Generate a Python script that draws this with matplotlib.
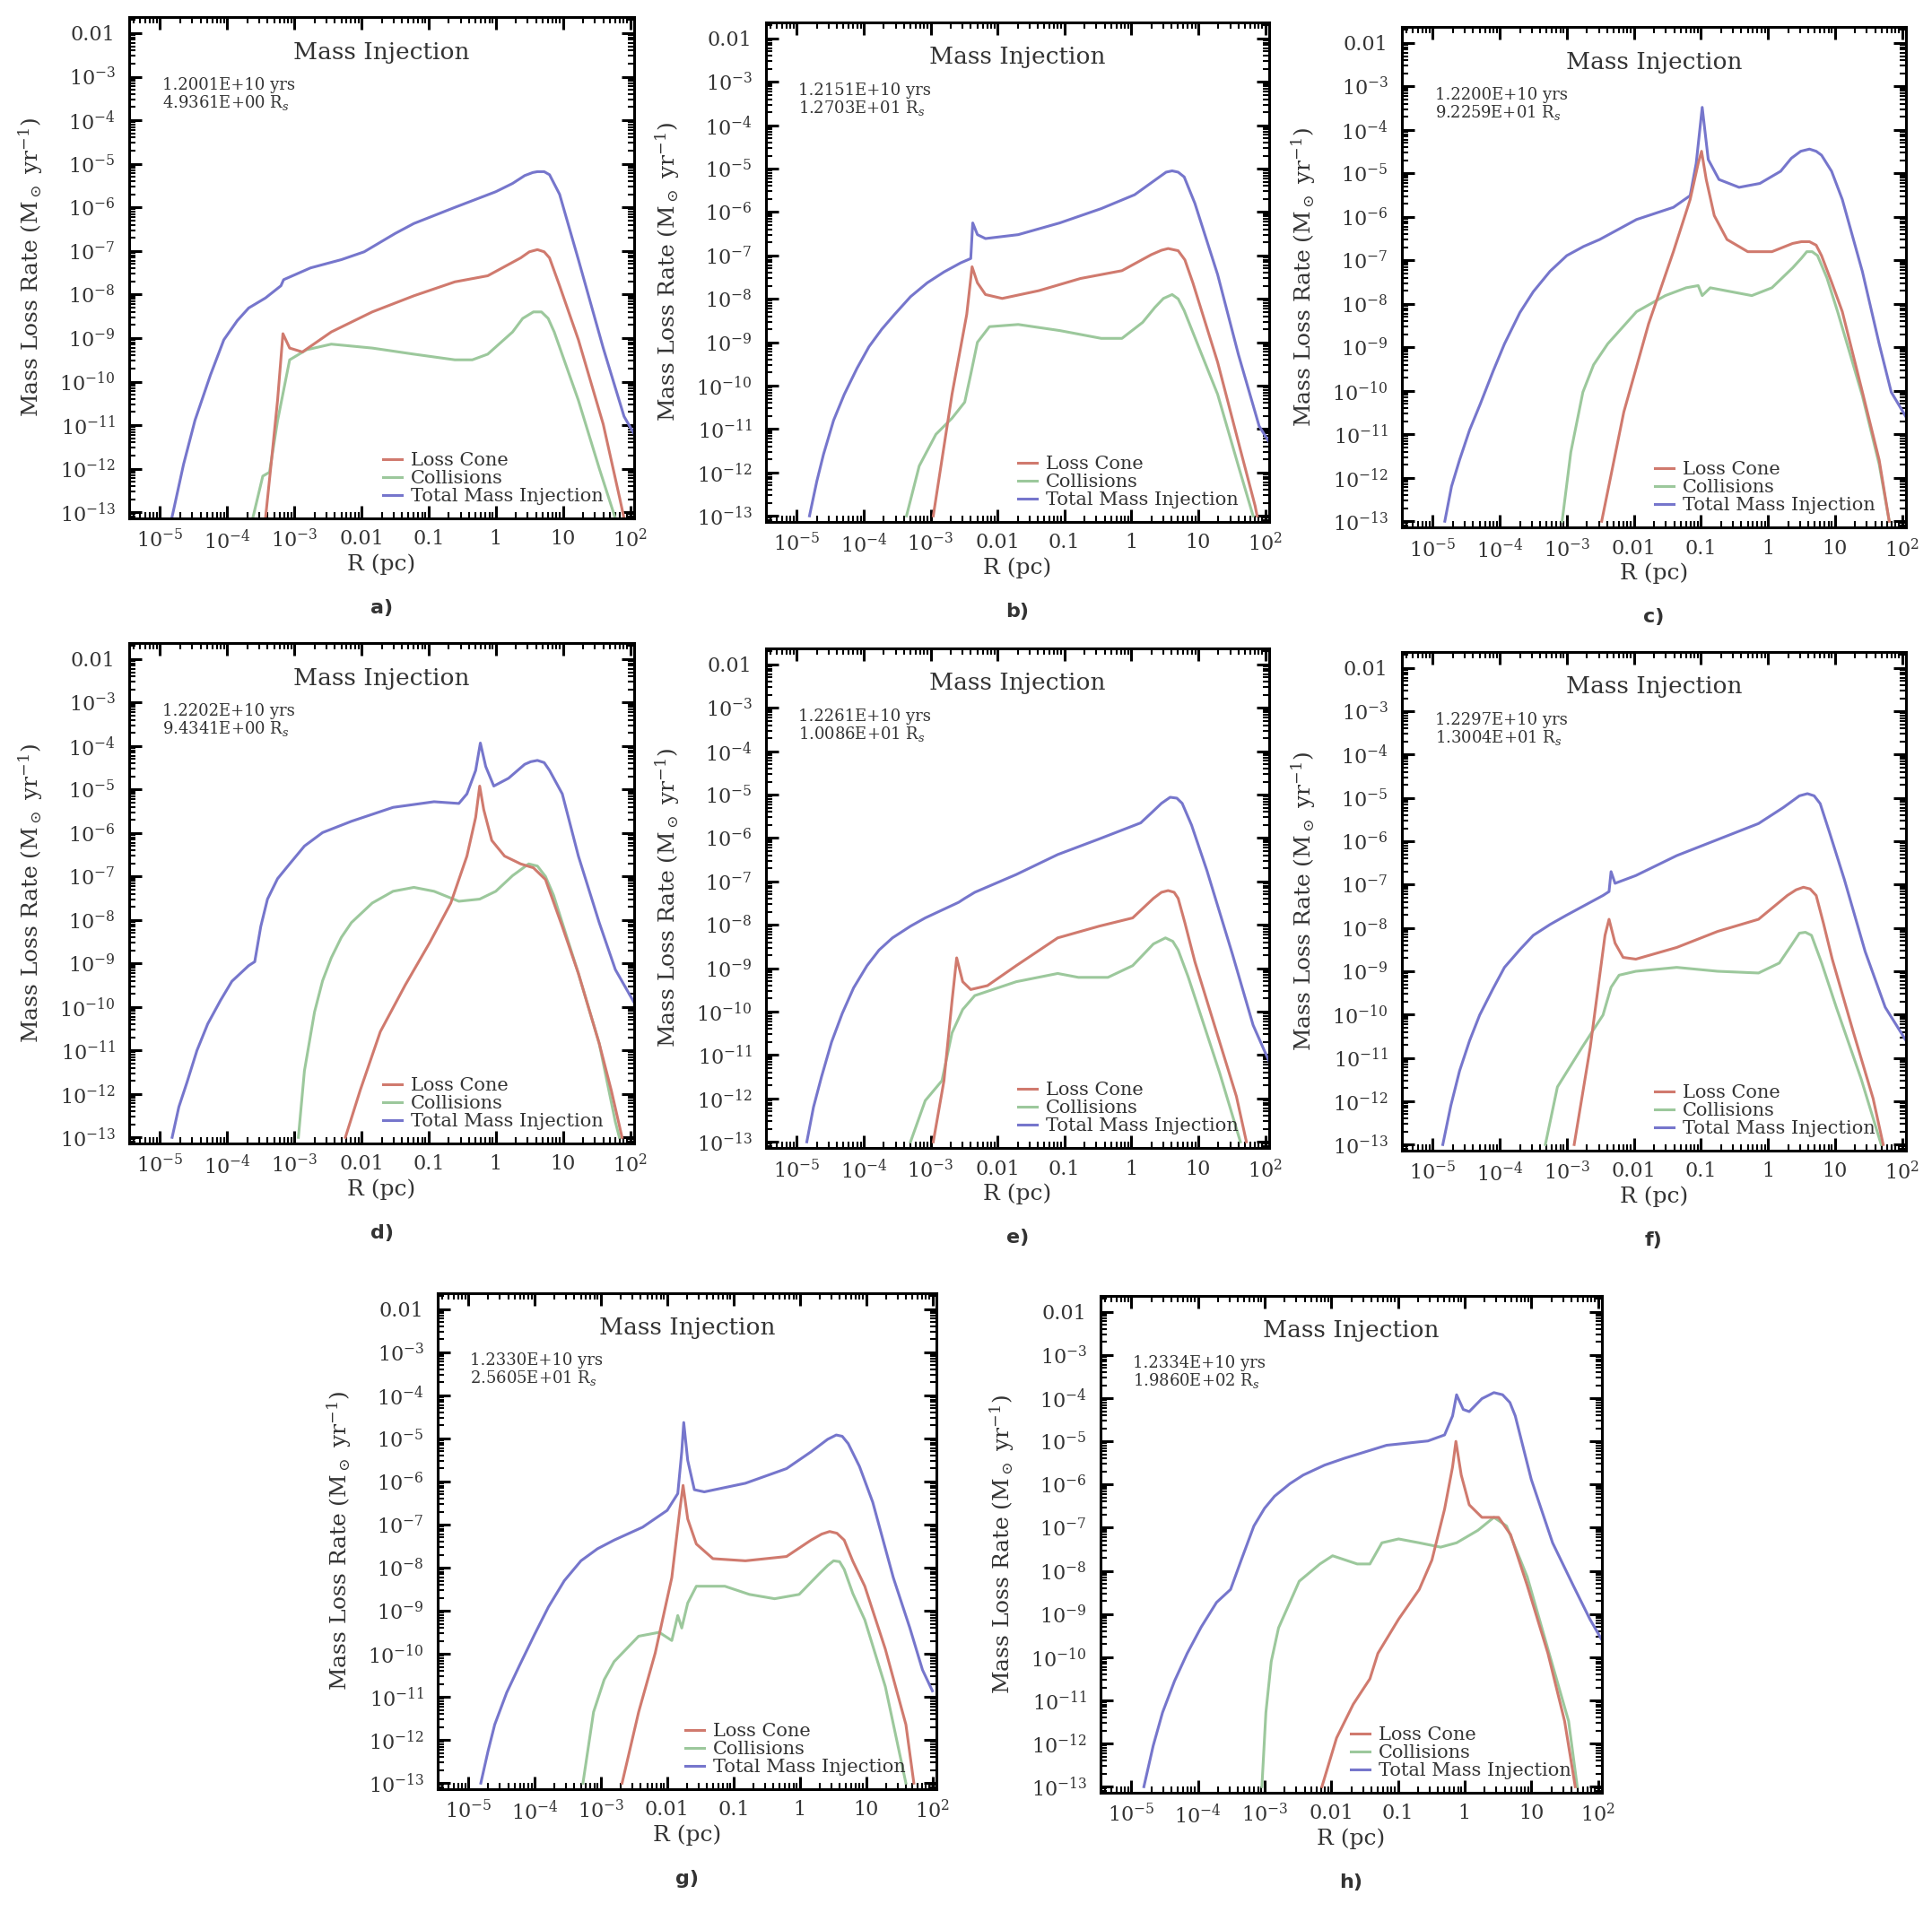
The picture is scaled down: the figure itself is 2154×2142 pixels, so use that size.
import numpy as np
import matplotlib
matplotlib.use('Agg')
import matplotlib.pyplot as plt
from matplotlib.ticker import FixedLocator, FixedFormatter, LogLocator, NullFormatter

plt.rcParams['font.family'] = ['DejaVu Serif']
plt.rcParams['mathtext.fontset'] = 'dejavuserif'

# textos de cada panel
tags = ['a)', 'b)', 'c)', 'd)', 'e)', 'f)', 'g)', 'h)']
ages = ['1.2001E+10', '1.2151E+10', '1.2200E+10', '1.2202E+10',
        '1.2261E+10', '1.2297E+10', '1.2330E+10', '1.2334E+10']
radii = ['4.9361E+00', '1.2703E+01', '9.2259E+01', '9.4341E+00',
         '1.0086E+01', '1.3004E+01', '2.5605E+01', '1.9860E+02']

x_ticks = [1e-5, 1e-4, 1e-3, 1e-2, 1e-1, 1, 10, 100]
x_labels = ['$10^{-5}$', '$10^{-4}$', '$10^{-3}$', '0.01', '0.1', '1', '10',
            '$10^{2}$']
y_ticks = [1e-13, 1e-12, 1e-11, 1e-10, 1e-9, 1e-8, 1e-7, 1e-6, 1e-5, 1e-4,
           1e-3, 1e-2]
y_labels = ['$10^{-13}$', '$10^{-12}$', '$10^{-11}$', '$10^{-10}$',
            '$10^{-9}$', '$10^{-8}$', '$10^{-7}$', '$10^{-6}$', '$10^{-5}$',
            '$10^{-4}$', '$10^{-3}$', '0.01']

# log10 R (pc) y log10 tasa (Msun/yr), leidos de la figura
# panel a
lr_tot_a = [-4.82, -4.65, -4.48, -4.25, -4.05, -3.85, -3.68, -3.43, -3.2,
            -3.16, -2.76, -2.3, -1.96, -1.5, -1.22, -0.61, 0.0, 0.25, 0.43,
            0.55, 0.62, 0.72, 0.80, 0.95, 1.23, 1.60, 1.91, 2.06]
lm_tot_a = [-13.1, -11.9, -10.89, -9.85, -9.04, -8.6, -8.31, -8.08, -7.8,
            -7.66, -7.39, -7.2, -7.02, -6.6, -6.37, -6.0, -5.64, -5.45, -5.27,
            -5.2, -5.18, -5.18, -5.25, -5.7, -7.2, -9.23, -10.8, -11.2]
lr_lc_a = [-3.43, -3.34, -3.25, -3.17, -3.07, -2.88, -2.45, -1.84, -1.22,
           -0.61, -0.12, 0.37, 0.5, 0.62, 0.72, 0.8, 0.95, 1.23, 1.6, 1.84,
           1.91]
lm_lc_a = [-13.14, -11.8, -10.43, -8.9, -9.23, -9.32, -8.86, -8.4, -8.03,
           -7.71, -7.57, -7.16, -7.02, -6.97, -7.02, -7.16, -7.8, -9.04,
           -10.98, -12.64, -13.14]
lr_col_a = [-3.62, -3.47, -3.37, -3.25, -3.07, -2.82, -2.45, -1.84, -1.22,
            -0.61, -0.35, -0.12, 0.25, 0.4, 0.56, 0.68, 0.78, 0.87, 1.23,
            1.54, 1.78]
lm_col_a = [-13.14, -12.17, -12.08, -10.9, -9.5, -9.27, -9.14, -9.23, -9.37,
            -9.5, -9.5, -9.37, -8.86, -8.55, -8.4, -8.4, -8.55, -8.86, -10.43,
            -11.99, -13.14]

# panel b
lr_tot_b = [-4.81, -4.7, -4.6, -4.45, -4.29, -4.1, -3.92, -3.73, -3.54, -3.3,
            -3.05, -2.8, -2.55, -2.4, -2.37, -2.30, -2.18, -1.69, -1.07,
            -0.45, 0.05, 0.42, 0.52, 0.61, 0.7, 0.79, 0.95, 1.29, 1.6, 1.91,
            2.06]
lm_tot_b = [-13.0, -12.2, -11.58, -10.8, -10.2, -9.6, -9.1, -8.7, -8.36,
            -7.95, -7.63, -7.38, -7.17, -7.07, -6.25, -6.52, -6.61, -6.52,
            -6.25, -5.92, -5.6, -5.19, -5.08, -5.05, -5.08, -5.19, -5.8,
            -7.44, -9.28, -10.93, -11.3]
lr_lc_b = [-2.96, -2.68, -2.46, -2.38, -2.30, -2.18, -1.93, -1.38, -0.76,
           -0.14, 0.30, 0.45, 0.55, 0.70, 0.8, 0.92, 1.29, 1.6, 1.85, 1.88]
lm_lc_b = [-13.0, -10.2, -8.36, -7.26, -7.63, -7.9, -7.99, -7.81, -7.53,
           -7.35, -6.98, -6.88, -6.84, -6.89, -7.1, -7.63, -9.46, -11.3,
           -12.77, -13.0]
lr_col_b = [-3.36, -3.17, -2.92, -2.68, -2.49, -2.4, -2.3, -2.12, -1.69,
            -1.07, -0.45, -0.14, 0.17, 0.35, 0.48, 0.61, 0.7, 0.79, 1.29, 1.6,
            1.82]
lm_col_b = [-13.0, -11.85, -11.12, -10.75, -10.38, -9.74, -9.0, -8.64, -8.59,
            -8.73, -8.91, -8.91, -8.54, -8.2, -7.99, -7.9, -8.0, -8.27, -10.2,
            -11.85, -13.0]

# panel c
lr_tot_c = [-4.82, -4.72, -4.6, -4.45, -4.29, -4.1, -3.93, -3.7, -3.5, -3.25,
            -3.0, -2.75, -2.51, -1.96, -1.41, -1.16, -1.07, -0.98, -0.89,
            -0.73, -0.43, -0.12, 0.19, 0.35, 0.49, 0.62, 0.72, 0.8, 0.95,
            1.11, 1.41, 1.66, 1.84, 2.06]
lm_tot_c = [-13.0, -12.2, -11.59, -10.9, -10.3, -9.55, -8.92, -8.2, -7.72,
            -7.25, -6.89, -6.68, -6.52, -6.06, -5.78, -5.51, -4.77, -3.48,
            -4.68, -5.14, -5.32, -5.23, -4.95, -4.65, -4.49, -4.44, -4.49,
            -4.58, -4.95, -5.6, -7.26, -8.92, -10.03, -10.6]
lr_lc_c = [-2.48, -2.15, -1.78, -1.41, -1.16, -1.04, -0.99, -0.92, -0.8,
           -0.61, -0.3, 0.06, 0.37, 0.5, 0.62, 0.72, 0.8, 0.95, 1.11, 1.41,
           1.66, 1.81]
lm_lc_c = [-13.0, -10.49, -8.46, -6.8, -5.6, -4.77, -4.49, -5.14, -5.97,
           -6.52, -6.8, -6.8, -6.61, -6.57, -6.57, -6.65, -6.89, -7.5, -8.18,
           -10.03, -11.59, -13.0]
lr_col_c = [-3.07, -2.94, -2.76, -2.6, -2.39, -1.96, -1.53, -1.22, -1.04,
            -0.98, -0.86, -0.55, -0.24, 0.06, 0.37, 0.5, 0.58, 0.66, 0.74,
            0.88, 1.04, 1.41, 1.66, 1.81]
lm_col_c = [-13.0, -11.41, -10.03, -9.4, -8.92, -8.18, -7.81, -7.63, -7.58,
            -7.81, -7.63, -7.72, -7.81, -7.63, -7.17, -6.95, -6.8, -6.8,
            -6.89, -7.4, -8.18, -10.12, -11.69, -13.0]

# panel d
lr_tot_d = [-4.82, -4.72, -4.6, -4.45, -4.29, -4.1, -3.93, -3.68, -3.59,
            -3.5, -3.4, -3.25, -3.07, -2.85, -2.58, -2.15, -1.53, -0.92,
            -0.55, -0.43, -0.3, -0.23, -0.15, -0.03, 0.19, 0.43, 0.52, 0.62,
            0.72, 0.8, 0.99, 1.23, 1.54, 1.78, 2.06]
lm_tot_d = [-13.0, -12.3, -11.74, -11.0, -10.39, -9.85, -9.41, -9.05, -8.96,
            -8.15, -7.52, -7.05, -6.71, -6.3, -5.99, -5.73, -5.41, -5.28,
            -5.32, -5.1, -4.56, -3.93, -4.47, -4.92, -4.74, -4.42, -4.36,
            -4.33, -4.38, -4.56, -5.1, -6.53, -8.06, -9.14, -9.9]
lr_lc_d = [-2.24, -2.02, -1.72, -1.35, -0.98, -0.67, -0.43, -0.3, -0.24,
           -0.18, -0.06, 0.13, 0.37, 0.56, 0.74, 0.99, 1.23, 1.54, 1.72, 1.88]
lm_lc_d = [-13.0, -11.92, -10.57, -9.5, -8.51, -7.61, -6.53, -5.64, -4.92,
           -5.46, -6.17, -6.53, -6.71, -6.8, -7.07, -8.15, -9.23, -10.84,
           -11.92, -13.0]
lr_col_d = [-2.94, -2.85, -2.7, -2.58, -2.45, -2.3, -2.15, -1.84, -1.53,
            -1.22, -0.92, -0.55, -0.24, 0.0, 0.25, 0.49, 0.62, 0.74, 0.86,
            1.23, 1.54, 1.78, 1.84]
lm_col_d = [-13.0, -11.47, -10.12, -9.4, -8.87, -8.4, -8.06, -7.61, -7.34,
            -7.25, -7.34, -7.57, -7.52, -7.34, -6.98, -6.71, -6.76, -7.0,
            -7.43, -9.23, -10.84, -12.64, -13.0]

# panel e
lr_tot_e = [-4.85, -4.75, -4.63, -4.48, -4.32, -4.15, -3.95, -3.77, -3.57,
            -3.3, -3.08, -2.58, -2.49, -2.34, -1.72, -1.1, -0.48, 0.14, 0.3,
            0.45, 0.58, 0.68, 0.76, 0.9, 1.13, 1.51, 1.82, 2.06]
lm_tot_e = [-13.0, -12.2, -11.5, -10.7, -10.04, -9.45, -8.94, -8.58, -8.3,
            -8.03, -7.84, -7.48, -7.39, -7.25, -6.84, -6.38, -6.02, -5.65,
            -5.42, -5.2, -5.06, -5.08, -5.2, -5.7, -6.75, -8.67, -10.31,
            -11.15]
lr_lc_e = [-2.96, -2.8, -2.68, -2.61, -2.52, -2.4, -2.15, -1.72, -1.1, -0.48,
           0.02, 0.33, 0.45, 0.55, 0.64, 0.7, 0.8, 0.95, 1.26, 1.57, 1.72]
lm_lc_e = [-13.0, -11.59, -9.76, -8.76, -9.31, -9.49, -9.4, -8.94, -8.3,
           -8.03, -7.84, -7.39, -7.25, -7.21, -7.25, -7.39, -7.95, -8.85,
           -10.4, -11.95, -13.0]
lr_col_e = [-3.3, -3.08, -2.83, -2.68, -2.52, -2.34, -1.72, -1.1, -0.79,
            -0.35, 0.02, 0.2, 0.33, 0.51, 0.62, 0.7, 0.85, 1.01, 1.32, 1.63]
lm_col_e = [-13.0, -12.05, -11.59, -10.49, -9.95, -9.63, -9.31, -9.12, -9.21,
            -9.21, -8.94, -8.65, -8.44, -8.3, -8.38, -8.58, -9.2, -9.95,
            -11.41, -13.0]

# panel f
lr_tot_f = [-4.85, -4.73, -4.6, -4.45, -4.3, -4.1, -3.93, -3.7, -3.5, -3.25,
            -3.01, -2.46, -2.37, -2.34, -2.28, -1.97, -1.36, -0.75, -0.14,
            0.23, 0.47, 0.59, 0.69, 0.78, 0.92, 1.14, 1.45, 1.75, 2.06]
lm_tot_f = [-13.0, -12.1, -11.3, -10.6, -10.01, -9.4, -8.91, -8.5, -8.17,
            -7.92, -7.71, -7.25, -7.16, -6.7, -6.97, -6.79, -6.33, -5.96,
            -5.59, -5.22, -4.95, -4.9, -4.95, -5.13, -5.8, -6.88, -8.54,
            -9.83, -10.6]
lr_lc_f = [-2.89, -2.65, -2.43, -2.37, -2.28, -2.16, -1.97, -1.36, -0.75,
           -0.14, 0.29, 0.42, 0.53, 0.63, 0.72, 0.83, 0.96, 1.27, 1.57, 1.72]
lm_lc_f = [-13.0, -10.75, -8.17, -7.8, -8.35, -8.68, -8.72, -8.45, -8.08,
           -7.8, -7.25, -7.12, -7.06, -7.1, -7.25, -7.9, -8.72, -10.38,
           -11.94, -13.0]
lr_col_f = [-3.32, -3.14, -2.77, -2.46, -2.34, -2.22, -1.97, -1.36, -0.75,
            -0.14, 0.17, 0.35, 0.47, 0.56, 0.65, 0.8, 1.02, 1.39, 1.69]
lm_col_f = [-13.0, -11.67, -10.75, -10.01, -9.37, -9.09, -9.0, -8.91, -9.0,
            -9.04, -8.81, -8.4, -8.12, -8.1, -8.17, -8.8, -9.83, -11.48,
            -13.0]

# panel g
lr_tot_g = [-4.81, -4.7, -4.6, -4.42, -4.23, -4.0, -3.79, -3.55, -3.3, -3.05,
            -2.8, -2.37, -2.0, -1.84, -1.78, -1.75, -1.69, -1.59, -1.44,
            -0.82, -0.2, 0.17, 0.42, 0.55, 0.64, 0.73, 0.9, 1.1, 1.41, 1.66,
            1.85, 2.0]
lm_tot_g = [-13.0, -12.25, -11.64, -10.9, -10.28, -9.55, -8.91, -8.3, -7.84,
            -7.56, -7.36, -7.06, -6.67, -6.28, -5.31, -4.63, -5.51, -6.19,
            -6.24, -6.04, -5.7, -5.31, -5.02, -4.92, -4.95, -5.12, -5.65,
            -6.48, -8.23, -9.4, -10.37, -10.86]
lr_lc_g = [-2.68, -2.43, -2.18, -1.93, -1.81, -1.76, -1.69, -1.56, -1.31,
           -0.82, -0.2, 0.17, 0.33, 0.45, 0.56, 0.67, 0.8, 0.98, 1.29, 1.6,
           1.72]
lm_lc_g = [-13.0, -11.35, -9.98, -8.23, -6.67, -6.09, -6.87, -7.45, -7.79,
           -7.84, -7.74, -7.36, -7.22, -7.16, -7.2, -7.36, -7.85, -8.43,
           -9.89, -11.64, -13.0]
lr_col_g = [-3.27, -3.11, -2.95, -2.8, -2.43, -2.12, -1.93, -1.84, -1.78,
            -1.69, -1.56, -1.13, -0.76, -0.38, -0.01, 0.3, 0.42, 0.51, 0.6,
            0.67, 0.8, 0.98, 1.29, 1.6]
lm_col_g = [-13.0, -11.35, -10.6, -10.18, -9.59, -9.5, -9.69, -9.11, -9.4,
            -8.82, -8.43, -8.43, -8.62, -8.72, -8.62, -8.13, -7.95, -7.84,
            -7.86, -8.04, -8.6, -9.21, -10.76, -13.0]

# panel h
lr_tot_h = [-4.81, -4.67, -4.53, -4.35, -4.16, -3.95, -3.72, -3.51, -3.35,
            -3.16, -3.0, -2.85, -2.62, -2.42, -2.1, -1.8, -1.17, -0.55, -0.3,
            -0.18, -0.12, -0.02, 0.07, 0.26, 0.44, 0.57, 0.68, 0.76, 1.0,
            1.32, 1.63, 1.88, 2.06]
lm_tot_h = [-13.0, -12.05, -11.28, -10.55, -9.91, -9.3, -8.73, -8.43, -7.75,
            -6.96, -6.55, -6.27, -5.98, -5.78, -5.55, -5.39, -5.09, -4.99,
            -4.85, -4.41, -3.92, -4.26, -4.31, -4.01, -3.87, -3.92, -4.1,
            -4.41, -5.88, -7.35, -8.34, -9.12, -9.6]
lr_lc_h = [-2.14, -1.92, -1.67, -1.42, -1.3, -0.99, -0.68, -0.49, -0.3, -0.18,
           -0.13, -0.05, 0.07, 0.26, 0.51, 0.69, 0.94, 1.25, 1.5, 1.66]
lm_lc_h = [-13.0, -11.87, -11.09, -10.5, -9.91, -9.12, -8.43, -7.75, -6.57,
           -5.59, -5.0, -5.78, -6.47, -6.76, -6.76, -7.16, -8.34, -9.91,
           -11.48, -13.0]
lr_col_h = [-3.04, -2.98, -2.9, -2.79, -2.48, -2.17, -1.98, -1.61, -1.42,
            -1.24, -0.99, -0.68, -0.36, -0.12, 0.2, 0.44, 0.63, 0.94, 1.25,
            1.56, 1.69]
lm_col_h = [-13.0, -11.28, -10.1, -9.32, -8.24, -7.84, -7.65, -7.84, -7.84,
            -7.35, -7.26, -7.35, -7.45, -7.35, -7.06, -6.76, -6.96, -8.14,
            -9.81, -11.48, -13.0]

series = [
    (lr_lc_a, lm_lc_a, lr_col_a, lm_col_a, lr_tot_a, lm_tot_a),
    (lr_lc_b, lm_lc_b, lr_col_b, lm_col_b, lr_tot_b, lm_tot_b),
    (lr_lc_c, lm_lc_c, lr_col_c, lm_col_c, lr_tot_c, lm_tot_c),
    (lr_lc_d, lm_lc_d, lr_col_d, lm_col_d, lr_tot_d, lm_tot_d),
    (lr_lc_e, lm_lc_e, lr_col_e, lm_col_e, lr_tot_e, lm_tot_e),
    (lr_lc_f, lm_lc_f, lr_col_f, lm_col_f, lr_tot_f, lm_tot_f),
    (lr_lc_g, lm_lc_g, lr_col_g, lm_col_g, lr_tot_g, lm_tot_g),
    (lr_lc_h, lm_lc_h, lr_col_h, lm_col_h, lr_tot_h, lm_tot_h),
]

# posicion de los ejes en pixeles (izq, arriba, der, abajo)
W, H = 2154, 2142
boxes = [(144, 19, 707, 578), (854, 25, 1415, 582), (1563, 30, 2125, 588),
         (144, 717, 707, 1275), (854, 723, 1415, 1280), (1563, 727, 2125, 1283),
         (488, 1442, 1044, 1995), (1227, 1445, 1786, 1999)]

c_lc = '#d07a6e'
c_col = '#9cc89c'
c_tot = '#7676cc'
txt = '#333333'

fig = plt.figure(figsize=(W / 100, H / 100), dpi=100)

for i, (l, t, r, b) in enumerate(boxes):
    ax = fig.add_axes([l / W, 1 - b / H, (r - l) / W, (b - t) / H])
    lr_lc, lm_lc, lr_col, lm_col, lr_tot, lm_tot = series[i]
    h_tot, = ax.plot(10.0 ** np.array(lr_tot), 10.0 ** np.array(lm_tot),
                     color=c_tot, lw=2.2)
    h_col, = ax.plot(10.0 ** np.array(lr_col), 10.0 ** np.array(lm_col),
                     color=c_col, lw=2.2)
    h_lc, = ax.plot(10.0 ** np.array(lr_lc), 10.0 ** np.array(lm_lc),
                    color=c_lc, lw=2.2)
    ax.set_xscale('log')
    ax.set_yscale('log')
    ax.set_xlim(10 ** -5.46, 10 ** 2.06)
    ax.set_ylim(10 ** -13.14, 10 ** -1.63)

    ax.xaxis.set_major_locator(FixedLocator(x_ticks))
    ax.xaxis.set_major_formatter(FixedFormatter(x_labels))
    ax.yaxis.set_major_locator(FixedLocator(y_ticks))
    ax.yaxis.set_major_formatter(FixedFormatter(y_labels))
    ax.xaxis.set_minor_locator(LogLocator(base=10, subs=np.arange(2, 10),
                                          numticks=30))
    ax.yaxis.set_minor_locator(LogLocator(base=10, subs=np.arange(2, 10),
                                          numticks=30))
    ax.xaxis.set_minor_formatter(NullFormatter())
    ax.yaxis.set_minor_formatter(NullFormatter())
    ax.tick_params(which='both', direction='in', top=True, right=True,
                   colors='black', labelcolor=txt, labelsize=16)
    ax.tick_params(which='major', length=10, width=2.2)
    ax.tick_params(axis='y', which='major', pad=11)
    ax.tick_params(axis='x', which='major', pad=9)
    ax.tick_params(which='minor', length=5, width=1.5)
    for s in ax.spines.values():
        s.set_linewidth(2.2)

    ax.set_xlabel('R (pc)', fontsize=18, color=txt, labelpad=0)
    ax.set_ylabel(r'Mass Loss Rate (M$_\odot$ yr$^{-1}$)', fontsize=18,
                  color=txt, labelpad=12)

    ax.text(0.5, 0.93, 'Mass Injection', transform=ax.transAxes,
            ha='center', va='center', fontsize=19, color=txt)
    ax.text(0.065, 0.88, ages[i] + ' yrs\n' + radii[i] + ' R$_s$',
            transform=ax.transAxes, ha='left', va='top', fontsize=13,
            color=txt, linespacing=1.0)
    ax.legend([h_lc, h_col, h_tot],
              ['Loss Cone', 'Collisions', 'Total Mass Injection'],
              loc='lower right', bbox_to_anchor=(0.965, 0.0), frameon=False,
              fontsize=15, handlelength=1.0, handletextpad=0.5,
              labelspacing=0.05, borderaxespad=0.3, labelcolor=txt)

    fig.text((l + r) / 2 / W, 1 - (b + 100) / H, tags[i], ha='center',
             va='center', fontsize=16, fontweight='bold', color=txt,
             family='DejaVu Sans')

fig.savefig('out.png', dpi=100, facecolor='white')
